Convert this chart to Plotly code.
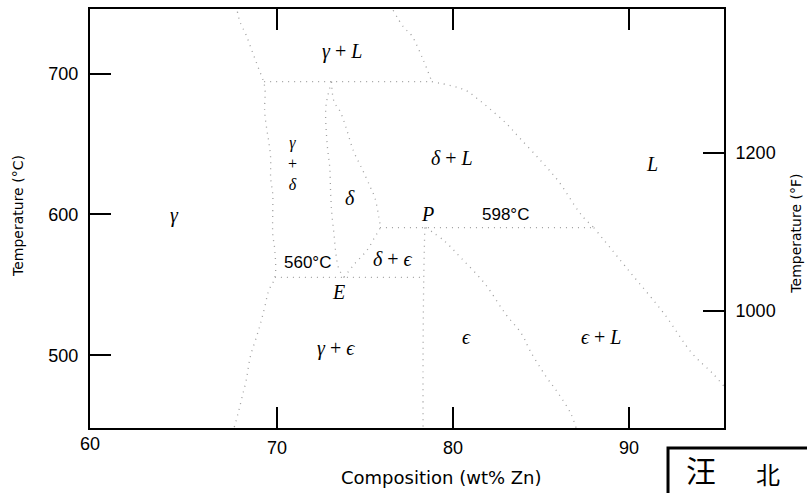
import plotly.graph_objects as go

# ---------------- data ----------------
# x: composition (wt% Zn), y: temperature (deg C)
gamma_bnd_x = [67.75, 67.9, 68.25, 68.6, 68.95, 69.3, 69.3, 69.41, 69.53, 69.64, 69.64, 69.76, 69.76,
               69.76, 69.88, 69.88, 69.53, 69.3, 69.06, 68.83, 68.48, 68.25, 68.02, 67.79, 67.56]
gamma_bnd_y = [744.0, 736.7, 727.3, 715.5, 703.8, 690.8, 673.1, 661.4, 651.9, 640.1, 626.0, 614.3, 602.5,
               586.0, 574.2, 555.3, 545.9, 534.1, 522.4, 512.9, 498.8, 482.3, 470.5, 458.8, 448.4]

peri1_x = [69.27, 78.8]
peri1_y = [694.3, 694.3]

gamma_liq_x = [76.6, 77.18, 77.64, 78.3, 78.8]
gamma_liq_y = [745.0, 733.2, 727.3, 710.0, 694.3]

delta_liq_x = [78.8, 80.66, 81.35, 82.05, 83.0, 83.79, 85.0, 85.99, 87.27, 88.0]
delta_liq_y = [694.3, 688.5, 682.6, 675.5, 665.0, 654.3, 638.0, 623.7, 600.1, 590.7]

peri2_x = [75.85, 88.0]
peri2_y = [590.7, 590.7]

delta_left_x = [73.1, 72.9, 72.77, 72.85, 73.0, 73.05, 73.12, 73.24, 73.35, 73.5, 73.8]
delta_left_y = [694.3, 685.0, 675.0, 650.0, 633.0, 615.0, 600.0, 586.0, 572.0, 562.0, 555.3]

delta_right_x = [73.1, 73.24, 73.59, 73.93, 74.35, 74.85, 75.32, 75.56, 75.79, 75.85, 75.56, 75.09, 74.4, 73.8]
delta_right_y = [694.3, 680.2, 673.1, 661.4, 645.0, 632.0, 619.0, 611.9, 597.7, 590.7, 584.0, 574.2, 564.8, 555.3]

eutectoid_x = [69.88, 78.34]
eutectoid_y = [555.3, 555.3]

eps_left_x = [78.4, 78.34, 78.3, 78.3]
eps_left_y = [590.7, 555.0, 500.0, 448.4]

eps_right_x = [78.45, 79.5, 80.43, 81.82, 82.98, 83.9, 84.37, 85.3, 85.99, 86.69, 87.0]
eps_right_y = [590.7, 581.3, 569.5, 550.7, 529.5, 515.3, 503.5, 484.7, 472.9, 458.8, 448.4]

eps_liq_x = [88.0, 90.0, 92.0, 93.6, 94.76, 95.4]
eps_liq_y = [590.7, 560.0, 529.5, 501.2, 487.1, 478.0]

# phase-field labels
phase_labels = ["<i>γ</i> + <i>L</i>", "<i>γ</i><br>+<br><i>δ</i>", "<i>δ</i> + <i>L</i>", "<i>L</i>",
                "<i>δ</i>", "<i>γ</i>", "<i>P</i>", "<i>δ</i> + <i>ϵ</i>", "<i>E</i>",
                "<i>ϵ</i>", "<i>ϵ</i> + <i>L</i>", "<i>γ</i> + <i>ϵ</i>"]
phase_x = [73.69, 70.9, 79.96, 91.33, 74.16, 64.2, 78.57, 76.6, 73.47, 80.77, 88.43, 73.35]
phase_y = [716.0, 636.0, 640.1, 635.5, 611.9, 599.0, 600.1, 568.4, 544.7, 512.9, 512.9, 504.7]
phase_size = [20, 16, 20, 20, 20, 20, 20, 20, 20, 20, 20, 20]

temp_labels = ["598°C", "560°C"]
temp_x = [82.98, 71.73]
temp_y = [600.1, 566.0]

x_ticks = [70, 80, 90]
y_ticks = [500, 600, 700]
y2_ticks = [1000, 1200]

x_range = [59.375, 95.4]
y_range = [448.4, 745.9]
y2_range = [852.0, 1382.0]

# ---------------- figure ----------------
fig = go.Figure()
line_style = dict(color="#a0a0a0", width=1.3, dash="1px,5px")
for xs, ys in [(gamma_bnd_x, gamma_bnd_y), (peri1_x, peri1_y), (gamma_liq_x, gamma_liq_y),
               (delta_liq_x, delta_liq_y), (peri2_x, peri2_y), (delta_left_x, delta_left_y),
               (delta_right_x, delta_right_y), (eutectoid_x, eutectoid_y), (eps_left_x, eps_left_y),
               (eps_right_x, eps_right_y), (eps_liq_x, eps_liq_y)]:
    fig.add_trace(go.Scatter(x=xs, y=ys, mode="lines", line=line_style, showlegend=False,
                             hoverinfo="skip", line_shape="spline"))

# invisible trace for the Fahrenheit axis
fig.add_trace(go.Scatter(x=[x_range[0]], y=[y2_range[0]], yaxis="y2", mode="markers",
                         marker=dict(opacity=0), showlegend=False, hoverinfo="skip"))

for t, x, y, s in zip(phase_labels, phase_x, phase_y, phase_size):
    fig.add_annotation(x=x, y=y, text=t, showarrow=False,
                       font=dict(family="Liberation Serif", size=s, color="black"),
                       xref="x", yref="y", xanchor="center", yanchor="middle")
for t, x, y in zip(temp_labels, temp_x, temp_y):
    fig.add_annotation(x=x, y=y, text=t, showarrow=False, xanchor="center", yanchor="middle",
                       font=dict(family="Liberation Sans", size=17, color="black"))

axis_font = dict(family="Liberation Sans", size=18, color="black")
title_font = dict(family="DejaVu Sans", size=14, color="black")

fig.update_layout(
    width=807, height=493,
    margin=dict(l=90, r=83, t=7, b=65),
    paper_bgcolor="white", plot_bgcolor="white",
    xaxis=dict(range=x_range, tickvals=x_ticks, ticks="inside", ticklen=21, tickwidth=1.5,
               tickcolor="black", showline=True, linecolor="black", linewidth=2, mirror="ticks",
               showgrid=False, zeroline=False, tickfont=axis_font, ticklabelstandoff=2),
    yaxis=dict(range=y_range, tickvals=y_ticks, ticks="inside", ticklen=21, tickwidth=1.5,
               tickcolor="black", showline=True, linecolor="black", linewidth=2,
               showgrid=False, zeroline=False, tickfont=axis_font, ticklabelstandoff=6),
    yaxis2=dict(range=y2_range, tickvals=y2_ticks, ticks="inside", ticklen=21, tickwidth=1.5,
                tickcolor="black", showline=True, linecolor="black", linewidth=2,
                overlaying="y", side="right", showgrid=False, zeroline=False,
                tickfont=axis_font, ticklabelstandoff=6),
)

# axis titles and corner label
fig.add_annotation(xref="paper", yref="paper", x=0.554, y=-0.119, text="Composition (wt% Zn)",
                   showarrow=False, font=dict(family="DejaVu Sans", size=18, color="black"),
                   xanchor="center", yanchor="middle")
fig.add_annotation(xref="paper", yref="paper", x=-0.1136, y=0.506, text="Temperature (°C)",
                   showarrow=False, font=title_font, textangle=-90, xanchor="center", yanchor="middle")
fig.add_annotation(xref="paper", yref="paper", x=1.113, y=0.463, text="Temperature (°F)",
                   showarrow=False, font=title_font, textangle=-90, xanchor="center", yanchor="middle")
fig.add_annotation(xref="paper", yref="paper", x=0.0, y=-0.037, text="60",
                   showarrow=False, font=axis_font, xanchor="center", yanchor="middle")

# stamp box in the lower-right corner of the scan
fig.add_shape(type="rect", xref="paper", yref="paper", x0=0.9117, x1=1.3, y0=-0.0475, y1=-0.4,
              line=dict(color="black", width=3))
fig.add_annotation(xref="paper", yref="paper", x=0.9637, y=-0.1520, text="汪", showarrow=False,
                   font=dict(family="Noto Sans CJK SC", size=30, color="black"),
                   xanchor="center", yanchor="bottom", borderpad=0)
fig.add_annotation(xref="paper", yref="paper", x=1.069, y=-0.1520, text="北", showarrow=False,
                   font=dict(family="Noto Sans CJK SC", size=24, color="black"),
                   xanchor="center", yanchor="bottom", borderpad=0)

fig.write_html("out.html", config={"displayModeBar": False},
               post_script="document.body.style.margin='0';")
